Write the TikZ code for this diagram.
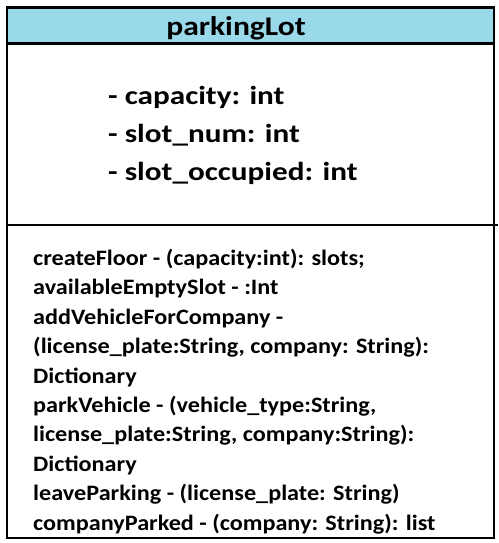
\documentclass[tikz,border=0pt]{standalone}
\usepackage{fontspec}
\setmainfont{Carlito}
\newfontfamily\titlefont[FakeStretch=1.17]{Carlito}
\newfontfamily\attrfont[FakeStretch=1.2]{Carlito}
\newfontfamily\methfont[FakeStretch=1.1]{Carlito}
\definecolor{headerblue}{HTML}{99D9EA}
\tikzset{
  classline/.style={line width=2.6pt, draw=black},
  titletext/.style={anchor=base, inner sep=0pt, font=\titlefont\fontsize{27}{30}\selectfont\bfseries},
  attrtext/.style={anchor=base west, inner sep=0pt, font=\attrfont\fontsize{26}{30}\selectfont\bfseries},
  methtext/.style={anchor=base west, inner sep=0pt, font=\methfont\fontsize{22}{26}\selectfont\bfseries},
}
\begin{document}
\begin{tikzpicture}[x=1pt, y=-1pt]
\useasboundingbox (0,0) rectangle (498,543);
% class box
\fill[headerblue] (7,7.5) rectangle (494,43.5);
\draw[classline] (7,7.5) rectangle (494,538);
\draw[classline] (7,43.5) -- (494,43.5);
\draw[classline] (7,225) -- (498,225);
% name
\node[titletext] (name) at (236,36) {parkingLot};
% attributes
\node[attrtext] (attr1) at (108,104) {- capacity: int};
\node[attrtext] (attr2) at (108,142) {- slot\_num: int};
\node[attrtext] (attr3) at (108,180) {- slot\_occupied: int};
% methods
\node[methtext] (m1) at (33,265) {createFloor - (capacity:int): slots;};
\node[methtext] (m2) at (33,294.5) {availableEmptySlot - :Int};
\node[methtext] (m3) at (33,324) {addVehicleForCompany -};
\node[methtext] (m4) at (33,353.5) {(license\_plate:String, company: String):};
\node[methtext] (m5) at (33,383) {Dictionary};
\node[methtext] (m6) at (33,412) {parkVehicle - (vehicle\_type:String,};
\node[methtext] (m7) at (33,441.5) {license\_plate:String, company:String):};
\node[methtext] (m8) at (33,471) {Dictionary};
\node[methtext] (m9) at (33,500.5) {leaveParking - (license\_plate: String)};
\node[methtext] (m10) at (33,530) {companyParked - (company: String): list};
\end{tikzpicture}
\end{document}
